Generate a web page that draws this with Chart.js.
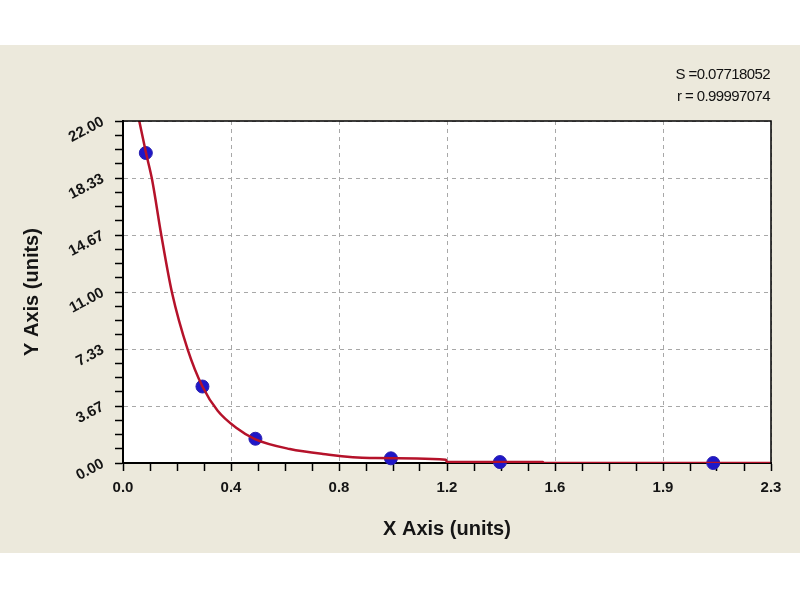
<!DOCTYPE html>
<html>
<head>
<meta charset="utf-8">
<script src="https://cdn.jsdelivr.net/npm/chart.js@4.4.1/dist/chart.umd.min.js"></script>
<style>
  html, body { margin: 0; padding: 0; background: #ffffff; }
  #wrap { position: absolute; left: 0; top: 45px; width: 800px; height: 508px; background: #ece9dc; }
  #stats {
    position: absolute; right: 30px; top: 18px; text-align: right;
    font-family: Arial, "Liberation Sans", sans-serif;
    font-size: 15px; line-height: 22px; letter-spacing: -0.6px; color: #111;
  }
</style>
</head>
<body>
<div id="wrap">
  <canvas id="curveChart" width="800" height="508"></canvas>
  <div id="stats">S =0.07718052<br>r = 0.99997074</div>
</div>
<script>
// tick labels as printed on the axes
var xLabels = ['0.0', '0.4', '0.8', '1.2', '1.6', '1.9', '2.3'];
var yLabels = ['0.00', '3.67', '7.33', '11.00', '14.67', '18.33', '22.00'];

// standard points
var stdX = [0.081, 0.282, 0.470, 0.951, 1.338, 2.095];
var stdY = [19.94, 4.92, 1.56, 0.30, 0.06, 0.00];

// fitted curve
var curveX = [0.056, 0.082, 0.103, 0.136, 0.174, 0.230, 0.282, 0.336, 0.403, 0.468, 0.592, 0.710, 0.876, 1.146, 1.149, 1.490, 1.494, 2.300];
var curveY = [22.15, 19.92, 18.25, 14.65, 10.95, 7.28, 4.92, 3.36, 2.25, 1.54, 0.90, 0.58, 0.32, 0.21, 0.08, 0.06, 0.00, 0.00];

var X_MAX = 2.3, Y_MAX = 22;
var MINOR = 4; // subdivisions between labelled ticks

function toXY(xs, ys) {
    return xs.map(function (x, i) { return { x: x, y: ys[i] }; });
}

function minorTicks(max, labels) {
    var n = (labels.length - 1) * MINOR;
    var ticks = [];
    for (var i = 0; i <= n; i++) {
        ticks.push({ value: max * i / n });
    }
    return ticks;
}

var plotBox = {
    id: 'plotBox',
    beforeDraw: function (chart) {
        var a = chart.chartArea, c = chart.ctx;
        c.save();
        c.fillStyle = '#ffffff';
        c.fillRect(a.left, a.top, a.right - a.left, a.bottom - a.top);
        c.restore();
    },
    afterDraw: function (chart) {
        var a = chart.chartArea, c = chart.ctx;
        c.save();
        c.strokeStyle = '#000000';
        c.lineWidth = 1.5;
        c.beginPath();
        c.moveTo(a.left, a.top);
        c.lineTo(a.right, a.top);
        c.lineTo(a.right, a.bottom);
        c.stroke();
        c.restore();
    }
};

var tickFont = { family: 'Arial, "Liberation Sans", sans-serif', size: 15, weight: 'bold' };
var titleFont = { family: 'Arial, "Liberation Sans", sans-serif', size: 20, weight: 'bold' };

var ctx = document.getElementById('curveChart').getContext('2d');
var curveChart = new Chart(ctx, {
    type: 'scatter',
    data: {
        datasets: [{
            label: 'curve',
            type: 'line',
            data: toXY(curveX, curveY),
            borderColor: '#b5122a',
            borderWidth: 2.5,
            pointRadius: 0,
            fill: false,
            cubicInterpolationMode: 'monotone',
            order: 0
        }, {
            label: 'standards',
            data: toXY(stdX, stdY),
            backgroundColor: '#1f17c8',
            borderColor: '#2a20b0',
            borderWidth: 1,
            pointRadius: 6.5,
            clip: false,
            order: 1
        }]
    },
    options: {
        responsive: false,
        animation: false,
        layout: { padding: { left: 0, right: 29, top: 76, bottom: 0 } },
        plugins: { legend: { display: false }, tooltip: { enabled: false } },
        scales: {
            x: {
                type: 'linear',
                min: 0,
                max: X_MAX,
                afterBuildTicks: function (scale) { scale.ticks = minorTicks(X_MAX, xLabels); },
                afterFit: function (scale) { scale.height = 90; },
                ticks: {
                    autoSkip: false,
                    maxRotation: 0,
                    padding: 8,
                    color: '#151515',
                    font: tickFont,
                    callback: function (v, i) { return i % MINOR === 0 ? xLabels[i / MINOR] : ''; }
                },
                grid: {
                    color: function (c) { return c.index % MINOR === 0 ? '#a8a8a8' : 'rgba(0,0,0,0)'; },
                    lineWidth: 1,
                    borderDash: [4, 4],
                    tickColor: '#000000',
                    tickLength: 8,
                    tickWidth: 1.5,
                    tickBorderDash: []
                },
                border: { color: '#000000', width: 2, dash: [4, 4] },
                title: {
                    display: true,
                    text: 'X Axis (units)',
                    color: '#151515',
                    font: titleFont,
                    padding: { top: 0, bottom: 12 }
                }
            },
            y: {
                type: 'linear',
                min: 0,
                max: Y_MAX,
                afterBuildTicks: function (scale) { scale.ticks = minorTicks(Y_MAX, yLabels); },
                afterFit: function (scale) { scale.width = 123; },
                ticks: {
                    autoSkip: false,
                    minRotation: 28,
                    maxRotation: 28,
                    padding: 12,
                    color: '#151515',
                    font: tickFont,
                    callback: function (v, i) { return i % MINOR === 0 ? yLabels[i / MINOR] : ''; }
                },
                grid: {
                    color: function (c) { return c.index % MINOR === 0 ? '#a8a8a8' : 'rgba(0,0,0,0)'; },
                    lineWidth: 1,
                    borderDash: [4, 4],
                    tickColor: '#000000',
                    tickLength: 8,
                    tickWidth: 1.5,
                    tickBorderDash: []
                },
                border: { color: '#000000', width: 2, dash: [4, 4] },
                title: {
                    display: true,
                    text: 'Y Axis (units)',
                    color: '#151515',
                    font: titleFont,
                    padding: { top: 20, bottom: 0 }
                }
            }
        }
    },
    plugins: [plotBox]
});
</script>
</body>
</html>
